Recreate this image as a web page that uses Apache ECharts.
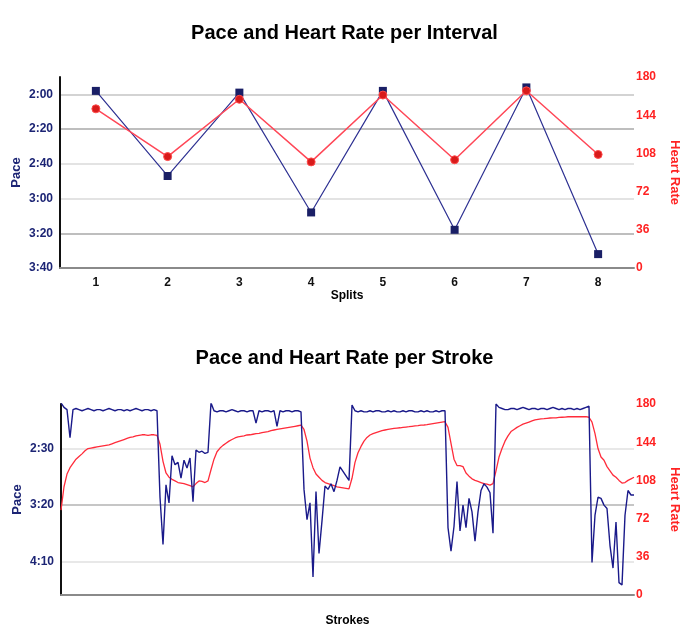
<!DOCTYPE html>
<html>
<head>
<meta charset="utf-8">
<script src="https://cdn.jsdelivr.net/npm/echarts@6/dist/echarts.min.js"></script>
<style>
html,body{margin:0;padding:0;background:#fff;}
#chart{width:689px;height:633px;}
</style>
</head>
<body>
<div id="chart"></div>
<script>
// ---- Top chart data (per interval) ----
const splitLabels = ['1','2','3','4','5','6','7','8'];
const paceSplits = [118, 167, 119, 188, 118, 198, 116, 212]; // seconds per 500m
const hrSplits = [150, 105, 159, 100, 163, 102, 167, 107];
const paceTicksTop = [120, 140, 160, 180, 200, 220];
const hrTicks = [0, 36, 72, 108, 144, 180];

// ---- Bottom chart data (per stroke) ----
const paceStrokes = [
109,113,115,140,115,114,
115,116,115,114,115,116,115,115,116,115,114,115,116,115,115,116,115,116,115,114,115,116,115,115,116,115,
116,
193,235,182,198,156,164,162,176,160,167,158,197,151,153,152,154,153,
109,
116,117,116,116,117,116,115,116,117,116,116,117,116,116,
127,
116,117,116,116,117,116,
130,
116,117,116,116,117,116,116,117,
186,213,198,264,188,243,214,183,186,181,188,178,166,170,174,178,
111,
116,117,116,117,117,116,117,116,116,117,117,116,117,116,117,117,116,117,116,116,117,117,116,117,116,117,117,116,117,116,116,
220,241,219,179,223,200,220,194,206,232,206,187,181,184,189,225,
110,
113,114,115,115,114,114,115,114,113,114,115,114,114,115,114,114,115,114,113,114,115,114,115,114,114,115,114,115,114,113,
112,
251,209,193,194,200,203,236,256,215,269,271,209,187,191,191
];
const hrStrokes = [
80,102,114,120,124,128,130.5,133,136,138,
138.5,139,139.5,140,140.5,141,141.5,142.5,143.5,144.5,
145.5,146.5,147.5,148.5,149,150,150.5,151,151,150.5,
151,151,150.5,142,126,115,111,109,107.5,106,
105.5,105,104,103,102,105,107.5,107,106,107.5,
118,128,135,138.5,141,143,145,146.5,148,149,
149.5,150,150.8,151,151.5,152,152.4,153,153.5,154,
155,155.5,156,156.5,157,157.5,158,158.5,159,159.5,
160,156,145,129,120,114,111,108,106,105,
104,103,102,101.5,101,100.5,100,110,125,134,
140,145,148.5,150.8,152,153,154,155,155.5,156,
156.5,157,157.3,157.6,158,158.3,158.6,159,159.3,159.6,
160,160.2,160.5,161,161.5,162,162.5,163,163.3,158,
143,128,122,122,121,115,112,109.5,108,107,
106,105,104.5,103.5,105,117,130,138,145,150,
154,156,158,159.5,161,162,163,164,165,165.5,
166,166.2,166.5,166.8,167,167,167.3,167.5,167.7,168,
168,168,168,168,168,168,167.5,163,152,138,
130,127,121,117,113,111,108,105.5,106,108,
109.5,111
];
const paceTicksBottom = [150, 200, 250];

const strokeLabels = paceStrokes.map((_, i) => String(i + 1));

const FONT = 'Liberation Sans, Arial, Helvetica, sans-serif';
const NAVY = '#1c2474';
const RED = '#ff2222';
function fmtPace(v) {
  const m = Math.floor(v / 60);
  const s = Math.round(v % 60);
  return m + ':' + (s < 10 ? '0' : '') + s;
}

const chart = echarts.init(document.getElementById('chart'), null, {renderer: 'canvas'});

function paceAxis(gridIndex, min, max, ticks, colors) {
  return {
    gridIndex, type: 'value', inverse: true, min, max, position: 'left',
    axisLine: {show: true, onZero: false, lineStyle: {color: '#111', width: 2}},
    axisTick: {show: false, customValues: ticks},
    axisLabel: {customValues: ticks, formatter: fmtPace, color: NAVY, fontWeight: 'bold',
      fontSize: 12, fontFamily: FONT, margin: 7},
    splitLine: {show: true, lineStyle: {color: colors, width: 1.5}},
    name: 'Pace', nameLocation: 'middle', nameGap: 37, nameMoveOverlap: false,
    nameTextStyle: {color: NAVY, fontWeight: 'bold', fontSize: 13, fontFamily: FONT}
  };
}
function hrAxis(gridIndex) {
  return {
    gridIndex, type: 'value', min: 0, max: 180, position: 'right',
    axisLine: {show: false}, axisTick: {show: false, customValues: hrTicks},
    axisLabel: {customValues: hrTicks, color: RED, fontWeight: 'bold', fontSize: 12,
      fontFamily: FONT, margin: 2},
    splitLine: {show: false},
    name: 'Heart Rate', nameLocation: 'middle', nameGap: 34, nameRotate: -90,
    nameTextStyle: {color: RED, fontWeight: 'bold', fontSize: 13, fontFamily: FONT}
  };
}

const option = {
  animation: false,
  backgroundColor: '#fff',
  title: [
    {text: 'Pace and Heart Rate per Interval', left: 'center', top: 18,
     textStyle: {fontSize: 20, fontWeight: 'bold', color: '#000', fontFamily: FONT}},
    {text: 'Pace and Heart Rate per Stroke', left: 'center', top: 343,
     textStyle: {fontSize: 20, fontWeight: 'bold', color: '#000', fontFamily: FONT}}
  ],
  grid: [
    {left: 60, right: 54, top: 77, height: 191, containLabel: false},
    {left: 61, right: 54, top: 404, height: 191, containLabel: false}
  ],
  xAxis: [
    {gridIndex: 0, type: 'category', data: splitLabels, boundaryGap: true,
     axisLine: {lineStyle: {color: '#8a8a8a', width: 2}}, axisTick: {show: false},
     axisLabel: {color: '#111', fontWeight: 'bold', fontSize: 12, fontFamily: FONT, margin: 9},
     name: 'Splits', nameLocation: 'middle', nameGap: 21,
     nameTextStyle: {color: '#000', fontWeight: 'bold', fontSize: 12, fontFamily: FONT}},
    {gridIndex: 1, type: 'category', data: strokeLabels, boundaryGap: false,
     axisLine: {lineStyle: {color: '#8a8a8a', width: 2}}, axisTick: {show: false},
     axisLabel: {show: false},
     name: 'Strokes', nameLocation: 'middle', nameGap: 20,
     nameTextStyle: {color: '#000', fontWeight: 'bold', fontSize: 12, fontFamily: FONT}}
  ],
  yAxis: [
    paceAxis(0, 110, 220, paceTicksTop, ['#c4c4c4', '#a9a9a9', '#dadada', '#dadada', '#a9a9a9', '#8a8a8a']),
    hrAxis(0),
    paceAxis(1, 110, 280, paceTicksBottom, ['#e0e0e0', '#b3b3b3', '#e0e0e0']),
    hrAxis(1)
  ],
  series: [
    {type: 'line', xAxisIndex: 0, yAxisIndex: 0, data: paceSplits,
     symbol: 'rect', symbolSize: 8, showAllSymbol: true,
     itemStyle: {color: '#1a1f66'}, lineStyle: {color: '#2e3192', width: 1.2}, z: 3},
    {type: 'line', xAxisIndex: 0, yAxisIndex: 1, data: hrSplits,
     symbol: 'circle', symbolSize: 8, showAllSymbol: true,
     itemStyle: {color: '#d81b1b', borderColor: '#ff4a4a', borderWidth: 1},
     lineStyle: {color: '#ff4757', width: 1.5}, z: 4},
    {type: 'line', xAxisIndex: 1, yAxisIndex: 3, data: hrStrokes, showSymbol: false,
     lineStyle: {color: '#ff2b3a', width: 1.3}, z: 3},
    {type: 'line', xAxisIndex: 1, yAxisIndex: 2, data: paceStrokes, showSymbol: false,
     lineStyle: {color: '#1a1a8a', width: 1.4}, z: 4}
  ]
};
chart.setOption(option);
</script>
</body>
</html>
